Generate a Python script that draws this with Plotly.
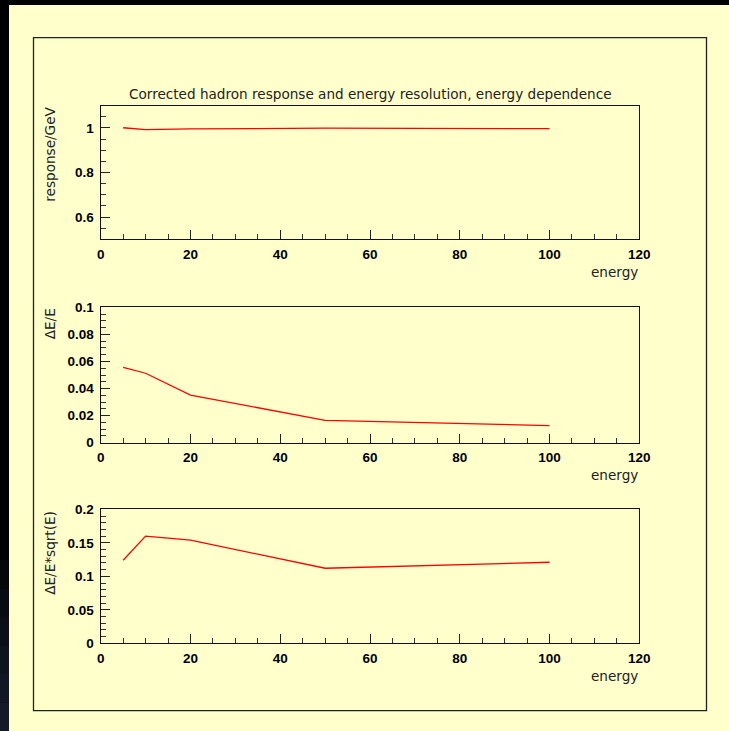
import plotly.graph_objects as go

# ---- data ----
energy = [5, 10, 20, 50, 100]
response = [1.001, 0.993, 0.996, 0.999, 0.997]
resolution = [0.0557, 0.0513, 0.0352, 0.0165, 0.0126]
resolution_sqrt = [0.124, 0.160, 0.154, 0.112, 0.121]

title_text = "Corrected hadron response and energy resolution, energy dependence"
y_titles = ["response/GeV", "\u0394E/E", "\u0394E/E*sqrt(E)"]
x_title = "energy"
y_ranges = [[0.5, 1.1], [0, 0.1], [0, 0.2]]
y_dticks = [0.2, 0.02, 0.05]
y_minor = [0.05, 0.005, 0.01]

W, H = 729, 731
BG = "#ffffcc"

def px(x):
    return x / W

def py(y):
    return 1 - y / H

x_dom = [px(100.7), px(639.3)]
# (top, bottom) in screen pixels for each panel
panels = [(105.7, 239.3), (307.3, 442.7), (509.3, 643.3)]

fig = go.Figure()
series = [response, resolution, resolution_sqrt]
for i, ys in enumerate(series):
    sfx = "" if i == 0 else str(i + 1)
    fig.add_trace(go.Scatter(
        x=energy, y=ys, mode="lines",
        line=dict(color="#ff0000", width=1.3),
        xaxis="x" + sfx, yaxis="y" + sfx, showlegend=False,
        hoverinfo="skip"))

tickfont = dict(family="Liberation Sans, Arial, sans-serif", size=13.5,
                color="black", weight="bold")
layout = dict(
    width=W, height=H, autosize=False,
    margin=dict(l=0, r=0, t=0, b=0, pad=0, autoexpand=False),
    paper_bgcolor="black",
    plot_bgcolor="rgba(0,0,0,0)",
    showlegend=False,
)
for i, (top, bot) in enumerate(panels):
    sfx = "" if i == 0 else str(i + 1)
    layout["xaxis" + sfx] = dict(
        domain=x_dom, range=[0, 120], anchor="y" + sfx, automargin=False,
        tick0=0, dtick=20, ticks="inside", ticklen=9, tickwidth=1,
        tickcolor="#222", showline=True, linecolor="#111", linewidth=1.4,
        mirror=True, showgrid=False, zeroline=False, tickfont=tickfont,
        ticklabelstandoff=2,
        minor=dict(dtick=5, ticks="inside", ticklen=5, tickcolor="#333",
                   showgrid=False),
    )
    layout["yaxis" + sfx] = dict(
        domain=[py(bot), py(top)], range=y_ranges[i], anchor="x" + sfx,
        automargin=False, ticklabelstandoff=3,
        tick0=0, dtick=y_dticks[i], ticks="inside", ticklen=9, tickwidth=1,
        tickcolor="#222", showline=True, linecolor="#111", linewidth=1.4,
        mirror=True, showgrid=False, zeroline=False, tickfont=tickfont,
        minor=dict(dtick=y_minor[i], ticks="inside", ticklen=5,
                   tickcolor="#333", showgrid=False),
    )
fig.update_layout(**layout)

shapes = [
    dict(type="rect", xref="paper", yref="paper", x0=px(9), x1=1, y0=0,
         y1=py(5), fillcolor=BG, line=dict(width=0), layer="below"),
    dict(type="rect", xref="paper", yref="paper", x0=px(33.5), x1=px(706.5),
         y0=py(710.7), y1=py(37.7), line=dict(color="#222", width=1.3),
         fillcolor="rgba(0,0,0,0)", layer="below"),
]
# faint dark-blue gradient on the left black strip (bottom part)
strip_cols = ["#05070b", "#080b12", "#0b0f18", "#0e131e", "#111724", "#141a28"]
for k, c in enumerate(strip_cols):
    y0 = 560 + k * 28.5
    shapes.append(dict(type="rect", xref="paper", yref="paper", x0=0,
                       x1=px(9), y0=py(min(y0 + 28.5, H)), y1=py(y0),
                       fillcolor=c, line=dict(width=0), layer="below"))
fig.update_layout(shapes=shapes)

txtfont = dict(family="DejaVu Sans, sans-serif", size=13.6, color="#222")
ann = [dict(text=title_text, xref="paper", yref="paper", x=px(370),
            y=py(94), xanchor="center", yanchor="middle", showarrow=False,
            font=txtfont)]
for i, (top, bot) in enumerate(panels):
    ann.append(dict(text=y_titles[i], xref="paper", yref="paper", x=px(50),
                    y=py(top - 0.5), xanchor="center", yanchor="top",
                    textangle=-90, showarrow=False, font=txtfont))
    ann.append(dict(text=x_title, xref="paper", yref="paper", x=px(639.5),
                    y=py(bot + 32.5), xanchor="right", yanchor="middle",
                    showarrow=False, font=txtfont))
fig.update_layout(annotations=ann)

fig.write_html("out.html")
